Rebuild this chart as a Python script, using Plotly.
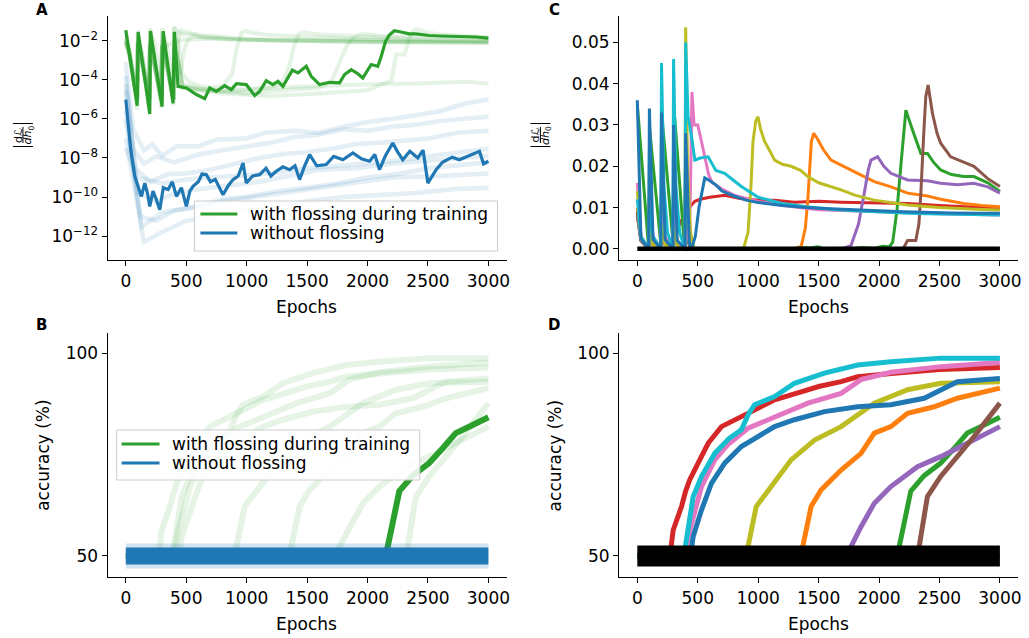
import plotly.graph_objects as go

# ---------------- DATA ----------------
EPOCH_TICKS = [0, 500, 1000, 1500, 2000, 2500, 3000]
LOG_TICKS = [1e-12, 1e-10, 1e-8, 1e-6, 1e-4, 1e-2]
LOG_TICK_TEXT = ["10<sup>−12</sup>", "10<sup>−10</sup>", "10<sup>−8</sup>",
                 "10<sup>−6</sup>", "10<sup>−4</sup>", "10<sup>−2</sup>"]
GRAD_TICKS = [0.0, 0.01, 0.02, 0.03, 0.04, 0.05]
ACC_TICKS = [50, 100]
LEGEND_NAMES = ["with flossing during training", "without flossing"]

# --- runs with flossing: gradient norm |dL/dh0| (panels A and C) ---
GRAD_RED_X = [0, 30, 94, 100, 130, 194, 200, 230, 294, 300, 320, 350, 400, 430, 476, 520, 600, 723, 850,
              1000, 1136, 1300, 1500, 1686, 1900, 2236, 2500, 2800, 3000]
GRAD_RED_Y = [0.008, 0.002, 8e-6, 0.007, 0.0015, 8e-6, 0.006, 0.0015, 8e-6, 0.006, 0.004, 0.006, 0.009, 0.010,
              0.0115, 0.012, 0.0125, 0.013, 0.0122, 0.0118, 0.0118, 0.0113, 0.0115, 0.0113, 0.0112, 0.011,
              0.0105, 0.0100, 0.0098]

GRAD_ORANGE_X = [0, 30, 94, 100, 130, 194, 200, 230, 294, 300, 330, 394, 400, 430, 470, 600, 800, 1000, 1200,
                 1300, 1356, 1390, 1411, 1440, 1460, 1493, 1540, 1603, 1700, 1823, 1961, 2100, 2236, 2400,
                 2510, 2700, 2850, 3000]
GRAD_ORANGE_Y = [0.010, 0.002, 1e-5, 0.008, 0.001, 1e-5, 0.007, 0.001, 1e-5, 0.006, 0.001, 1e-5, 0.006, 0.001,
                 6e-5, 3e-5, 2.5e-5, 3e-5, 4e-5, 8e-5, 6e-4, 0.005, 0.012, 0.026, 0.028, 0.0265, 0.024, 0.0215,
                 0.020, 0.0183, 0.0163, 0.015, 0.0135, 0.0128, 0.012, 0.011, 0.0105, 0.0102]

GRAD_GREEN_X = [0, 94, 102, 198, 204, 300, 309, 391, 402, 432, 501, 584, 653, 694, 749, 818, 873, 915, 997,
                1066, 1107, 1162, 1217, 1259, 1300, 1378, 1424, 1493, 1534, 1603, 1686, 1769, 1810, 1865, 1920,
                1961, 2030, 2085, 2113, 2149, 2180, 2200, 2222, 2277, 2346, 2401, 2450, 2510, 2600, 2700,
                2785, 2900, 3000]
GRAD_GREEN_Y = [0.035, 4.8e-6, 0.029, 1.8e-6, 0.032, 4.2e-6, 0.032, 6.3e-6, 0.029, 4.7e-5, 3.9e-5, 1.8e-5,
                1.1e-5, 3.9e-5, 2.6e-5, 5.1e-5, 3.2e-5, 6.5e-5, 5.8e-5, 1.6e-5, 2.6e-5, 9.3e-5, 5.8e-5,
                8.5e-5, 4.7e-5, 3.2e-4, 2.3e-4, 5.0e-4, 1.55e-4, 5.8e-5, 7.6e-5, 7.1e-5, 1.9e-4, 3.4e-4,
                2.1e-4, 1.26e-4, 6.2e-4, 5.0e-4, 1.6e-3, 9.5e-3, 0.02, 0.026, 0.0336, 0.0288, 0.0231,
                0.0231, 0.021, 0.0191, 0.018, 0.0175, 0.0175, 0.016, 0.0139]

GRAD_PURPLE_X = [0, 30, 94, 100, 130, 194, 200, 230, 294, 300, 330, 394, 400, 430, 470, 700, 1000, 1300, 1600,
                 1700, 1768, 1830, 1878, 1910, 1933, 1988, 2040, 2098, 2236, 2400, 2510, 2650, 2785, 2900, 3000]
GRAD_PURPLE_Y = [0.009, 0.002, 1e-5, 0.008, 0.001, 1e-5, 0.007, 0.001, 1e-5, 0.006, 0.001, 1e-5, 0.005, 0.001,
                 5e-5, 3e-5, 2e-5, 3e-5, 4e-5, 8e-5, 8e-4, 0.006, 0.0135, 0.019, 0.0215, 0.0223, 0.020,
                 0.0183, 0.0167, 0.0165, 0.0159, 0.0155, 0.0159, 0.015, 0.0135]

GRAD_BROWN_X = [0, 30, 94, 100, 130, 194, 200, 230, 294, 300, 330, 394, 400, 430, 470, 800, 1200, 1600, 2000,
                2200, 2236, 2304, 2330, 2346, 2370, 2387, 2406, 2425, 2442, 2480, 2510, 2593, 2700, 2785,
                2900, 3000]
GRAD_BROWN_Y = [0.009, 0.002, 1e-5, 0.008, 0.001, 1e-5, 0.006, 0.001, 1e-5, 0.006, 0.001, 1e-5, 0.005, 0.001,
                4e-5, 2e-5, 1.5e-5, 2e-5, 3e-5, 1e-4, 0.002, 0.002, 0.006, 0.0135, 0.028, 0.0369, 0.0397,
                0.036, 0.0328, 0.028, 0.0256, 0.0223, 0.021, 0.020, 0.017, 0.0151]

GRAD_GRAY_X = [0, 30, 94, 100, 130, 194, 200, 230, 294, 300, 330, 394, 400, 430, 470, 800, 1200, 1600, 2000,
               2400, 2800, 3000]
GRAD_GRAY_Y = [0.008, 0.002, 1e-5, 0.007, 0.001, 1e-5, 0.006, 0.001, 1e-5, 0.005, 0.001, 1e-5, 0.005, 0.001,
               4e-5, 3e-5, 4e-5, 5e-5, 6e-5, 6.5e-5, 8e-5, 6.5e-5]

GRAD_PINK_X = [0, 30, 94, 100, 130, 194, 200, 230, 294, 300, 330, 394, 400, 430, 440, 452, 470, 500, 531, 560,
               590, 620, 700, 800, 1000, 1200, 1500, 2000, 2500, 3000]
GRAD_PINK_Y = [0.016, 0.003, 8e-6, 0.012, 0.003, 8e-6, 0.012, 0.003, 8e-6, 0.010, 0.002, 8e-6, 0.005, 0.002,
               0.015, 0.038, 0.030, 0.030, 0.026, 0.022, 0.018, 0.016, 0.0145, 0.013, 0.0115, 0.0105, 0.0095,
               0.009, 0.0085, 0.0082]

GRAD_OLIVE_X = [0, 30, 94, 100, 130, 194, 200, 230, 294, 300, 330, 394, 400, 415, 440, 470, 520, 600, 700, 800,
                880, 916, 940, 957, 980, 998, 1020, 1053, 1100, 1136, 1200, 1273, 1350, 1411, 1500, 1686, 1800,
                1961, 2236, 2500, 2800, 3000]
GRAD_OLIVE_Y = [0.014, 0.003, 1e-5, 0.006, 0.001, 1e-5, 0.006, 0.001, 1e-5, 0.005, 0.001, 1e-5, 0.0537, 0.02,
                0.004, 2e-4, 8e-5, 5e-5, 4e-5, 5e-5, 2e-4, 0.004, 0.015, 0.026, 0.031, 0.032, 0.029, 0.026,
                0.0235, 0.0215, 0.0205, 0.020, 0.019, 0.0175, 0.016, 0.0143, 0.013, 0.0118, 0.0106, 0.0100,
                0.0096, 0.0094]

GRAD_CYAN_X = [0, 30, 94, 100, 130, 194, 200, 220, 250, 294, 300, 320, 350, 394, 400, 420, 450, 476, 520, 586,
               650, 723, 800, 861, 1000, 1200, 1400, 1600, 1800, 2000, 2200, 2400, 2600, 2800, 3000]
GRAD_CYAN_Y = [0.012, 0.003, 1e-5, 0.010, 0.003, 1e-5, 0.045, 0.015, 0.004, 1e-5, 0.046, 0.015, 0.004, 1e-5,
               0.050, 0.032, 0.027, 0.0215, 0.022, 0.0223, 0.019, 0.0183, 0.0165, 0.0151, 0.0125, 0.011,
               0.0102, 0.0096, 0.0092, 0.0089, 0.0087, 0.0085, 0.0084, 0.0083, 0.0082]

GRAD_BLUE_X = [0, 30, 94, 100, 130, 194, 200, 230, 294, 300, 330, 394, 400, 430, 450, 480, 510, 540, 558, 600,
               650, 700, 800, 900, 1000, 1200, 1400, 1600, 1800, 2000, 2200, 2400, 2600, 2800, 3000]
GRAD_BLUE_Y = [0.036, 0.0025, 3e-6, 0.034, 0.0023, 3e-6, 0.033, 0.0022, 4e-6, 0.030, 0.002, 5e-6, 0.028,
               0.0015, 2e-4, 0.003, 0.010, 0.015, 0.0172, 0.0165, 0.0155, 0.014, 0.0128, 0.0118, 0.0112,
               0.0105, 0.0100, 0.0097, 0.0094, 0.0092, 0.0090, 0.0088, 0.0087, 0.0086, 0.0086]

# --- runs without flossing: gradient norm (panel A blue, panel C black) ---
NOFLOSS_GRAD_X = [0, 40, 74, 100, 129, 157, 180, 198, 225, 253, 281, 310, 350, 385, 419, 460, 501, 530, 556,
                  600, 630, 667, 700, 740, 804, 850, 887, 930, 970, 997, 1050, 1107, 1160, 1200, 1245, 1300,
                  1355, 1400, 1438, 1480, 1521, 1580, 1658, 1720, 1796, 1879, 1950, 2017, 2060, 2099, 2150,
                  2209, 2250, 2292, 2350, 2416, 2460, 2499, 2568, 2620, 2700, 2760, 2840, 2926, 2960, 3000]
NOFLOSS_GRAD_Y = [9.8e-6, 3e-8, 1.15e-9, 4e-10, 1.07e-10, 5.2e-10, 1.5e-10, 3.3e-11, 2e-10, 7.2e-11, 2.2e-11,
                  3e-10, 2.4e-10, 6e-10, 1.07e-10, 3e-10, 3.3e-11, 2e-10, 3.5e-10, 6e-10, 1.5e-9, 1.4e-9,
                  6e-10, 8e-10, 1.3e-10, 4e-10, 7.8e-10, 1.2e-9, 5.5e-9, 5.2e-10, 1.2e-9, 1.4e-9, 3e-9,
                  1.2e-9, 2.1e-9, 3.5e-9, 2.5e-9, 4e-9, 7.8e-10, 4e-9, 1.5e-8, 4e-9, 4.6e-9, 1.2e-8, 8.1e-9,
                  1.8e-8, 9e-9, 6.8e-9, 1.5e-8, 2.5e-9, 1.4e-8, 5.9e-8, 2e-8, 8.1e-9, 2.2e-8, 1.0e-8,
                  2.5e-8, 5.2e-10, 2.5e-9, 6e-9, 1.1e-8, 8.1e-9, 1.3e-8, 2.2e-8, 5e-9, 6.8e-9]
NOFLOSS_F1_X = [0, 60, 150, 220, 300, 420, 600, 750, 1000, 1150, 1400, 1600, 1800, 2000, 2200, 2400, 2600,
                2800, 3000]
NOFLOSS_F1_Y = [8e-4, 3e-7, 2.5e-8, 5e-8, 1.3e-8, 4e-8, 4e-8, 9e-8, 1e-7, 2e-7, 2.5e-7, 2e-7, 4e-7, 7e-7,
                1e-6, 1.5e-6, 2.5e-6, 6e-6, 1e-5]
NOFLOSS_F2_X = [0, 60, 150, 250, 400, 600, 800, 1000, 1200, 1400, 1600, 1800, 2000, 2200, 2400, 2600, 2800,
                3000]
NOFLOSS_F2_Y = [1.6e-4, 3e-8, 5e-9, 1.2e-8, 6e-9, 1.5e-8, 2.5e-8, 4e-8, 6e-8, 1.2e-7, 1.6e-7, 3e-7, 2.5e-7,
                4e-7, 5e-7, 8e-7, 1e-6, 1.3e-6]
NOFLOSS_F3_X = [0, 80, 200, 350, 500, 700, 900, 1100, 1300, 1500, 1700, 1900, 2100, 2300, 2500, 2750, 3000]
NOFLOSS_F3_Y = [3e-5, 3e-9, 6e-10, 1.5e-9, 1.6e-9, 2.5e-9, 5e-9, 1e-8, 1.6e-8, 2e-8, 3e-8, 5e-8, 6e-8,
                8e-8, 1e-7, 2e-7, 2.5e-7]
NOFLOSS_F4_X = [0, 120, 250, 400, 600, 800, 1000, 1250, 1500, 1750, 2000, 2250, 2500, 2750, 3000]
NOFLOSS_F4_Y = [1e-6, 1e-11, 6e-12, 2e-11, 3e-11, 8e-11, 1e-10, 2e-10, 3e-10, 5e-10, 1e-9, 1.5e-9, 3e-9,
                4e-9, 6e-9]
NOFLOSS_F5_X = [0, 150, 300, 500, 700, 950, 1200, 1500, 1800, 2100, 2400, 2700, 3000]
NOFLOSS_F5_Y = [1e-7, 5e-13, 1.6e-12, 6e-12, 1e-11, 2e-11, 3e-11, 6e-11, 1e-10, 1.2e-10, 1.6e-10, 2.5e-10,
                3e-10]
NOFLOSS_F6_X = [0, 130, 300, 550, 800, 1150, 1500, 1850, 2200, 2600, 3000]
NOFLOSS_F6_Y = [3e-6, 3e-12, 1.6e-11, 3e-11, 6e-11, 1.2e-10, 2.5e-10, 5e-10, 1e-9, 1.2e-9, 1.6e-9]
NOFLOSS_F7_X = [0, 100, 300, 500, 700, 950, 1200, 1500, 1800, 2100, 2400, 2700, 3000]
NOFLOSS_F7_Y = [3e-8, 1e-9, 5e-10, 8e-10, 1e-9, 1.2e-9, 1.6e-9, 3e-9, 4e-9, 6e-9, 1e-8, 1.8e-8, 3e-8]
NOFLOSS_F8_X = [0, 100, 250, 400, 600, 850, 1100, 1350, 1600, 1900, 2200, 2600, 3000]
NOFLOSS_F8_Y = [6e-5, 1.6e-10, 6e-11, 1.5e-10, 2.5e-10, 4e-10, 6e-10, 1.2e-9, 2.5e-9, 3e-9, 5e-9, 8e-9,
                1.3e-8]
NOFLOSS_C_X = [0, 3000]
NOFLOSS_C_Y = [0.0, 0.0]

# --- accuracy (%) (panels B and D) ---
ACC_RED_X = [0, 270, 297, 330, 366, 400, 434, 503, 586, 696, 861, 1000, 1136, 1356, 1500, 1686, 1823, 2100,
             2500, 3000]
ACC_RED_Y = [50, 50, 56.4, 59, 62.2, 66, 68.8, 72.9, 77.8, 81.9, 84.4, 86.5, 88.5, 90.5, 91.8, 93, 94.2, 95,
             96, 96.5]
ACC_ORANGE_X = [0, 1345, 1369, 1438, 1521, 1686, 1851, 1961, 2098, 2236, 2456, 2648, 3000]
ACC_ORANGE_Y = [50, 50, 52.3, 62.2, 66.3, 71.2, 75.3, 80.3, 81.9, 85.2, 86.8, 88.9, 91.4]
ACC_GREEN_X = [0, 2150, 2167, 2220, 2263, 2373, 2510, 2620, 2730, 2870, 3000]
ACC_GREEN_Y = [50, 50, 52.3, 60, 66, 69.8, 72.9, 76.5, 80.3, 82.3, 84.2]
ACC_PURPLE_X = [0, 1745, 1768, 1851, 1961, 2098, 2318, 2510, 2730, 3000]
ACC_PURPLE_Y = [50, 50, 52.3, 57.2, 63, 67.1, 72, 74.5, 77.8, 81.9]
ACC_BROWN_X = [0, 2310, 2332, 2400, 2510, 2648, 2785, 3000]
ACC_BROWN_Y = [50, 50, 52.3, 64.6, 69.6, 74.5, 79.4, 87.7]
ACC_GRAY_X = [0, 3000]
ACC_GRAY_Y = [50, 50]
ACC_PINK_X = [0, 400, 421, 480, 531, 641, 750, 916, 1136, 1411, 1686, 1851, 2098, 2510, 3000]
ACC_PINK_Y = [50, 50, 54.8, 62, 67.1, 73.7, 77.5, 81.5, 84.4, 87.7, 90.1, 93.5, 95.3, 96.7, 97.7]
ACC_OLIVE_X = [0, 895, 916, 984, 1108, 1273, 1466, 1686, 1961, 2236, 2510, 3000]
ACC_OLIVE_Y = [50, 50, 52.3, 62.2, 67.1, 73.7, 78.6, 81.9, 87.7, 91, 92.6, 93]
ACC_CYAN_X = [0, 375, 393, 430, 462, 531, 641, 760, 861, 920, 970, 1136, 1300, 1548, 1823, 2098, 2510, 3000]
ACC_CYAN_Y = [50, 50, 51.5, 58, 64.6, 69.6, 75.3, 79, 81.1, 85, 87.3, 89.3, 92.6, 95.1, 97.1, 97.9, 98.8,
              98.8]
ACC_BLUE_X = [0, 440, 462, 531, 613, 723, 861, 998, 1136, 1300, 1548, 1823, 2098, 2373, 2648, 3000]
ACC_BLUE_Y = [50, 50, 54.8, 61.3, 67.9, 72.9, 77, 79.4, 81.9, 83.6, 85.6, 86.8, 87.3, 88.9, 93, 93.8]
NOFLOSS_ACC_X = [0, 3000]
NOFLOSS_ACC_Y = [50, 50]

# ---------------- STYLE ----------------
W, H = 1029, 638
FONT = "DejaVu Sans"
FS = 17
TAB = {"blue": "#1f77b4", "orange": "#ff7f0e", "green": "#2ca02c", "red": "#d62728",
       "purple": "#9467bd", "brown": "#8c564b", "pink": "#e377c2", "gray": "#7f7f7f",
       "olive": "#bcbd22", "cyan": "#17becf"}

runs_grad = [("red", GRAD_RED_X, GRAD_RED_Y), ("orange", GRAD_ORANGE_X, GRAD_ORANGE_Y),
             ("green", GRAD_GREEN_X, GRAD_GREEN_Y), ("purple", GRAD_PURPLE_X, GRAD_PURPLE_Y),
             ("brown", GRAD_BROWN_X, GRAD_BROWN_Y), ("gray", GRAD_GRAY_X, GRAD_GRAY_Y),
             ("pink", GRAD_PINK_X, GRAD_PINK_Y), ("olive", GRAD_OLIVE_X, GRAD_OLIVE_Y),
             ("cyan", GRAD_CYAN_X, GRAD_CYAN_Y), ("blue", GRAD_BLUE_X, GRAD_BLUE_Y)]
runs_acc = [("red", ACC_RED_X, ACC_RED_Y), ("orange", ACC_ORANGE_X, ACC_ORANGE_Y),
            ("green", ACC_GREEN_X, ACC_GREEN_Y), ("purple", ACC_PURPLE_X, ACC_PURPLE_Y),
            ("brown", ACC_BROWN_X, ACC_BROWN_Y), ("gray", ACC_GRAY_X, ACC_GRAY_Y),
            ("pink", ACC_PINK_X, ACC_PINK_Y), ("olive", ACC_OLIVE_X, ACC_OLIVE_Y),
            ("cyan", ACC_CYAN_X, ACC_CYAN_Y), ("blue", ACC_BLUE_X, ACC_BLUE_Y)]
nofloss_faint = [(NOFLOSS_F1_X, NOFLOSS_F1_Y), (NOFLOSS_F2_X, NOFLOSS_F2_Y), (NOFLOSS_F3_X, NOFLOSS_F3_Y),
                 (NOFLOSS_F4_X, NOFLOSS_F4_Y), (NOFLOSS_F5_X, NOFLOSS_F5_Y), (NOFLOSS_F6_X, NOFLOSS_F6_Y),
                 (NOFLOSS_F7_X, NOFLOSS_F7_Y), (NOFLOSS_F8_X, NOFLOSS_F8_Y)]


def px(x):
    return x / W


def py(y):
    return 1 - y / H


fig = go.Figure()


def line(x, y, ax, color, width, opacity=1.0):
    fig.add_trace(go.Scatter(x=x, y=y, mode="lines", xaxis="x" + ax, yaxis="y" + ax,
                             line=dict(color=color, width=width), opacity=opacity,
                             showlegend=False, hoverinfo="skip"))


# Panel A (axes '') : log gradient norms
for f_x, f_y in nofloss_faint:
    line(f_x, f_y, "", TAB["blue"], 4.5, 0.12)
for name, rx, ry in runs_grad:
    if name != "green":
        line(rx, ry, "", TAB["green"], 4, 0.12)
line(GRAD_GREEN_X, GRAD_GREEN_Y, "", TAB["green"], 3.2)
line(NOFLOSS_GRAD_X, NOFLOSS_GRAD_Y, "", TAB["blue"], 3.2)

# Panel C (axes '2') : linear gradient norms
for name, rx, ry in runs_grad:
    line(rx, ry, "2", TAB[name], 3)
line(NOFLOSS_C_X, NOFLOSS_C_Y, "2", "black", 4.5)

# Panel B (axes '3') : accuracy
for name, rx, ry in runs_acc:
    if name != "green":
        line(rx, ry, "3", TAB["green"], 6, 0.12)
line(ACC_GREEN_X, ACC_GREEN_Y, "3", TAB["green"], 6)
line(NOFLOSS_ACC_X, NOFLOSS_ACC_Y, "3", TAB["blue"], 25, 0.2)
line(NOFLOSS_ACC_X, NOFLOSS_ACC_Y, "3", TAB["blue"], 17)

# Panel D (axes '4')
for name, rx, ry in runs_acc:
    line(rx, ry, "4", TAB[name], 5)
line(NOFLOSS_ACC_X, NOFLOSS_ACC_Y, "4", "black", 21)

axis_common = dict(showline=True, linecolor="black", linewidth=1.3, ticks="outside", ticklen=5,
                   tickwidth=1.3, tickcolor="black", showgrid=False, zeroline=False,
                   tickfont=dict(family=FONT, size=FS, color="black"))

xdom_l = [px(108), px(508)]
xdom_r = [px(621), px(1021)]
ydom_t = [py(260), py(16)]
ydom_b = [py(577), py(333)]
xr = [-150, 3150]

fig.update_layout(
    width=W, height=H, margin=dict(l=0, r=0, t=0, b=0),
    paper_bgcolor="white", plot_bgcolor="white", showlegend=False,
    font=dict(family=FONT, size=FS, color="black"),
    xaxis=dict(domain=xdom_l, range=xr, tickvals=EPOCH_TICKS, anchor="y", **axis_common),
    yaxis=dict(domain=ydom_t, type="log", range=[-13.23, -0.72], tickvals=LOG_TICKS,
               ticktext=LOG_TICK_TEXT, anchor="x", **axis_common),
    xaxis2=dict(domain=xdom_r, range=xr, tickvals=EPOCH_TICKS, anchor="y2", **axis_common),
    yaxis2=dict(domain=ydom_t, range=[-0.0027, 0.0564], tickvals=GRAD_TICKS, tickformat=".2f",
                anchor="x2", **axis_common),
    xaxis3=dict(domain=xdom_l, range=xr, tickvals=EPOCH_TICKS, anchor="y3", **axis_common),
    yaxis3=dict(domain=ydom_b, range=[44.8, 105], tickvals=ACC_TICKS, anchor="x3", **axis_common),
    xaxis4=dict(domain=xdom_r, range=xr, tickvals=EPOCH_TICKS, anchor="y4", **axis_common),
    yaxis4=dict(domain=ydom_b, range=[44.8, 105], tickvals=ACC_TICKS, anchor="x4", **axis_common),
)

ann = []
shapes = []


def text(x, y, s, size=FS, angle=0, bold=False, anchor="center", yanchor="middle"):
    ann.append(dict(x=px(x), y=py(y), xref="paper", yref="paper", text=("<b>%s</b>" % s) if bold else s,
                    showarrow=False, xanchor=anchor, yanchor=yanchor, textangle=angle, borderpad=0,
                    font=dict(family=FONT, size=size, color="black")))


def hline(x0, x1, y, color, width):
    shapes.append(dict(type="line", xref="paper", yref="paper", x0=px(x0), x1=px(x1), y0=py(y), y1=py(y),
                       line=dict(color=color, width=width), layer="above"))


# panel letters
text(42, 0, "A", 15, bold=True, yanchor="top")
text(556, 0, "C", 15, bold=True, yanchor="top")
text(42, 315, "B", 15, bold=True, yanchor="top")
text(556, 315, "D", 15, bold=True, yanchor="top")
# x titles
for cx in (307, 821):
    text(cx, 307, "Epochs")
    text(cx, 624, "Epochs")
# y titles
text(43, 455, "accuracy (%)", angle=-90)
text(557, 455, "accuracy (%)", angle=-90)

for cx in (23, 542):
    text(cx - 5, 135, "d<i>ℒ</i>", 11, angle=-90)
    text(cx + 5.5, 135, "<i>dh</i><sub>0</sub>", 11, angle=-90)
    shapes.append(dict(type="line", xref="paper", yref="paper", x0=px(cx), x1=px(cx),
                       y0=py(127), y1=py(143), line=dict(color="black", width=1)))
    for yy in (123.5, 146.5):
        hline(cx - 10, cx + 10, yy, "black", 1)

# legends (box, line samples, labels)
for (bx0, by0, bx1, by1, lx0, lx1, tx, ys) in ((195, 201, 499, 251, 201, 238, 250, (214, 233)),
                                               (117, 430, 421, 480, 122, 160, 172, (444, 463))):
    shapes.append(dict(type="rect", xref="paper", yref="paper", x0=px(bx0), x1=px(bx1), y0=py(by1),
                       y1=py(by0), fillcolor="rgba(255,255,255,0.85)",
                       line=dict(color="#cccccc", width=1), layer="above"))
    for nm, col, yy in zip(LEGEND_NAMES, (TAB["green"], TAB["blue"]), ys):
        hline(lx0, lx1, yy, col, 3)
        text(tx, yy, nm, FS, anchor="left")

fig.update_layout(annotations=ann, shapes=shapes)
fig.write_html("out.html", config={"displayModeBar": False},
               post_script="document.body.style.margin='0px';")
